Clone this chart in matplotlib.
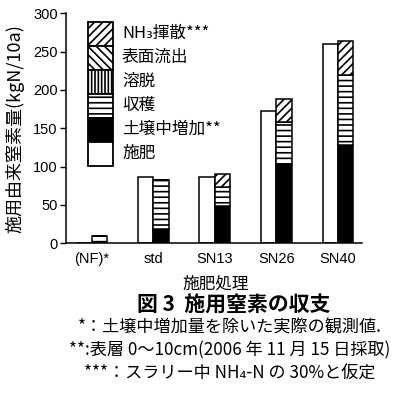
import matplotlib
matplotlib.use('Agg')
import matplotlib.pyplot as plt
from matplotlib.patches import Rectangle
import numpy as np

plt.rcParams['font.family'] = ['Noto Sans CJK JP', 'DejaVu Sans']
plt.rcParams['hatch.linewidth'] = 1.2

# data (kgN/10a)
treatments = ['(NF)*', 'std', 'SN13', 'SN26', 'SN40']
fertilizer = [0, 86, 87, 173, 260]
soil_increase = [0, 18, 49, 103, 128]
harvest = [9, 65, 25, 55, 92]
leaching = [0, 0, 0, 0, 0]
runoff = [0, 0, 0, 0, 0]
nh3_volat = [0, 0, 16, 30, 44]

yticks = [0, 50, 100, 150, 200, 250, 300]
legend_labels = ['NH₃揮散***', '表面流出', '溶脱', '収穫', '土壌中増加**', '施肥']
notes = [
    '*：土壌中増加量を除いた実際の観測値.',
    '**:表層 0～10cm(2006 年 11 月 15 日採取)',
    '***：スラリー中 NH₄-N の 30%と仮定',
]

fig = plt.figure(figsize=(4.06, 3.98), dpi=100)
ax = fig.add_axes([0.1626, 0.3887, 0.729, 0.5779])

x = np.arange(len(treatments))
w = 0.25
edge = dict(edgecolor='black', linewidth=1.1)

# left bar: applied fertilizer
ax.bar(x - w / 2, fertilizer, w, color='white', **edge)

# right bar: stacked fate of nitrogen
segments = [
    (soil_increase, dict(color='black')),
    (harvest, dict(color='white', hatch='---')),
    (leaching, dict(color='white', hatch='|||||')),
    (runoff, dict(color='white', hatch='\\\\\\\\')),
    (nh3_volat, dict(color='white', hatch='////')),
]
bottom = np.zeros(len(x))
for vals, style in segments:
    vals = np.array(vals, dtype=float)
    ax.bar(x + w / 2, vals, w, bottom=bottom, **style, **edge)
    bottom += vals

ax.set_xlim(-0.415, 4.39)
ax.set_ylim(0, 300)
ax.set_yticks(yticks)
ax.set_xticks(x)
ax.set_xticklabels(treatments, fontfamily='Liberation Sans', fontsize=10.5)
ax.tick_params(axis='x', length=0, pad=6)
ax.tick_params(axis='y', length=4, width=1, pad=2, labelsize=10.5)
for lab in ax.get_yticklabels():
    lab.set_fontfamily('Liberation Sans')
for s in ['top', 'right']:
    ax.spines[s].set_visible(False)
for s in ['left', 'bottom']:
    ax.spines[s].set_linewidth(1.1)

# legend as a stacked column of patches
leg_styles = [
    dict(facecolor='white', hatch='////'),
    dict(facecolor='white', hatch='\\\\\\\\'),
    dict(facecolor='white', hatch='|||||'),
    dict(facecolor='white', hatch='---'),
    dict(facecolor='black'),
    dict(facecolor='white'),
]
lx, lw = 0.0743, 0.0845
ltop, lh = 0.9635, 0.1043
for i, (st, lab) in enumerate(zip(leg_styles, legend_labels)):
    y0 = ltop - (i + 1) * lh
    ax.add_patch(Rectangle((lx, y0), lw, lh, transform=ax.transAxes,
                           edgecolor='black', linewidth=1.3, clip_on=False, **st))
    ax.text(0.189, y0 + lh / 2, lab, transform=ax.transAxes,
            fontsize=12, va='center', ha='left')

fig.text(0.037, 0.678, '施用由来窒素量(kgN/10a)', rotation=90,
         ha='center', va='center', fontsize=13)
fig.text(0.532, 0.286, '施肥処理', ha='center', va='center', fontsize=12)
fig.text(0.576, 0.234, '図 3  施用窒素の収支', ha='center', va='center',
         fontsize=15, fontweight='bold')
for yy, t in zip([0.178, 0.119, 0.060], notes):
    fig.text(0.566, yy, t, ha='center', va='center', fontsize=12.3)

fig.savefig('out.png', dpi=100)
